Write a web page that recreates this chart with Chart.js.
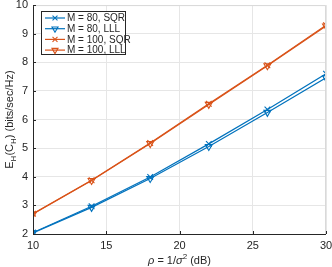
<!DOCTYPE html>
<html>
<head>
<meta charset="utf-8">
<script src="https://cdn.jsdelivr.net/npm/chart.js@4"></script>
<style>
  html, body { margin: 0; padding: 0; background: #fff; }
  #wrap { width: 332px; height: 267px; }
</style>
</head>
<body>
<div id="wrap"><canvas id="chart" width="332" height="267"></canvas></div>
<script>
let rho = [10, 14, 18, 22, 26, 30];
let m80Sqr = [2.05, 2.97, 3.99, 5.15, 6.35, 7.6];
let m80Lll = [2.04, 2.93, 3.94, 5.06, 6.25, 7.46];
let m100Sqr = [2.71, 3.88, 5.18, 6.55, 7.9, 9.3];
let m100Lll = [2.7, 3.87, 5.16, 6.53, 7.88, 9.27];
let seriesNames = ['M = 80, SQR', 'M = 80, LLL', 'M = 100, SQR', 'M = 100, LLL'];

let blue = '#0072BD';
let orange = '#D95319';
let font = '"Liberation Sans", Arial, sans-serif';

function mkSet(label, vals, color, marker) {
    return {
        label: label,
        data: rho.map((r, i) => ({ x: r, y: vals[i] })),
        borderColor: color,
        backgroundColor: 'rgba(0,0,0,0)',
        borderWidth: 1.2,
        pointStyle: marker,
        pointRotation: marker === 'triangle' ? 180 : 0,
        pointRadius: 4,
        pointBorderWidth: 1.1,
        pointBorderColor: color,
        pointBackgroundColor: 'rgba(0,0,0,0)',
        tension: 0
    };
}

// box, ticks, axis titles and legend, drawn by hand (MATLAB look)
let decor = {
    id: 'decor',
    afterDraw(chart) {
        let c = chart.ctx;
        let a = chart.chartArea;
        c.save();
        c.strokeStyle = '#262626';
        c.lineWidth = 1;
        c.beginPath();
        c.moveTo(a.left + 0.5, a.top);
        c.lineTo(a.left + 0.5, a.bottom + 0.5);
        c.lineTo(a.right, a.bottom + 0.5);
        c.stroke();
        c.strokeStyle = '#d9d9d9';
        c.beginPath();
        c.moveTo(a.left, a.top + 0.5);
        c.lineTo(a.right - 0.5, a.top + 0.5);
        c.lineTo(a.right - 0.5, a.bottom);
        c.stroke();

        c.strokeStyle = '#262626';
        let xs = chart.scales.x, ys = chart.scales.y;
        xs.ticks.forEach(t => {
            let px = Math.round(xs.getPixelForValue(t.value)) + 0.5;
            c.beginPath();
            c.moveTo(px, a.bottom);
            c.lineTo(px, a.bottom - 3);
            c.stroke();
        });
        ys.ticks.forEach(t => {
            let py = Math.round(ys.getPixelForValue(t.value)) + 0.5;
            c.beginPath();
            c.moveTo(a.left, py);
            c.lineTo(a.left + 3, py);
            c.stroke();
        });

        c.fillStyle = '#262626';
        c.textBaseline = 'alphabetic';
        let parts = [
            ['ρ', 'italic 11px ' + font, 0],
            [' = 1/', '11px ' + font, 0],
            ['σ', 'italic 11px ' + font, 0],
            ['2', '8px ' + font, -5],
            [' (dB)', '11px ' + font, 0]
        ];
        let w = 0;
        parts.forEach(p => { c.font = p[1]; w += c.measureText(p[0]).width; });
        let x0 = (a.left + a.right) / 2 - w / 2;
        let by = 264;
        parts.forEach(p => {
            c.font = p[1];
            c.textAlign = 'left';
            c.fillText(p[0], x0, by + p[2]);
            x0 += c.measureText(p[0]).width;
        });

        c.translate(13, (a.top + a.bottom) / 2);
        c.rotate(-Math.PI / 2);
        let yparts = [
            ['E', '11px ' + font, 0],
            ['H', '8px ' + font, 3],
            ['(C', '11px ' + font, 0],
            ['H', '8px ' + font, 3],
            [') (bits/sec/Hz)', '11px ' + font, 0]
        ];
        w = 0;
        yparts.forEach(p => { c.font = p[1]; w += c.measureText(p[0]).width; });
        x0 = -w / 2;
        yparts.forEach(p => {
            c.font = p[1];
            c.fillText(p[0], x0, p[2]);
            x0 += c.measureText(p[0]).width;
        });
        c.restore();

        // legend
        c.save();
        let lx = 41, ly = 11, lw = 84, lh = 43;
        c.fillStyle = '#fff';
        c.fillRect(lx, ly, lw, lh);
        c.strokeStyle = '#262626';
        c.lineWidth = 1;
        c.strokeRect(lx + 0.5, ly + 0.5, lw, lh);
        c.font = '10px ' + font;
        c.textBaseline = 'middle';
        c.textAlign = 'left';
        chart.data.datasets.forEach((ds, i) => {
            let yy = ly + 7 + i * 10.7;
            c.strokeStyle = ds.borderColor;
            c.lineWidth = 1.2;
            c.beginPath();
            c.moveTo(lx + 4, yy);
            c.lineTo(lx + 24, yy);
            c.stroke();
            c.lineWidth = 1.1;
            c.fillStyle = 'rgba(0,0,0,0)';
            Chart.helpers.drawPoint(c, {
                pointStyle: ds.pointStyle,
                rotation: ds.pointRotation,
                radius: 3.5,
                borderWidth: 1.1
            }, lx + 14, yy);
            c.fillStyle = '#262626';
            c.fillText(ds.label, lx + 26, yy + 0.5);
        });
        c.restore();
    }
};

new Chart(document.getElementById('chart').getContext('2d'), {
    type: 'line',
    data: {
        datasets: [
            mkSet(seriesNames[0], m80Sqr, blue, 'crossRot'),
            mkSet(seriesNames[1], m80Lll, blue, 'triangle'),
            mkSet(seriesNames[2], m100Sqr, orange, 'crossRot'),
            mkSet(seriesNames[3], m100Lll, orange, 'triangle')
        ]
    },
    options: {
        responsive: false,
        animation: false,
        layout: { padding: { top: 5, right: 0, left: 0, bottom: 0 } },
        plugins: { legend: { display: false }, tooltip: { enabled: false } },
        scales: {
            x: {
                type: 'linear',
                min: 10,
                max: 30,
                border: { display: false },
                grid: { color: '#e6e6e6', drawTicks: false },
                ticks: { stepSize: 5, padding: 5, color: '#262626', font: { family: font, size: 11 } },
                afterFit(s) { s.height = 33; s.paddingRight = 6; s.paddingLeft = 0; }
            },
            y: {
                min: 2,
                max: 10,
                border: { display: false },
                grid: { color: '#e6e6e6', drawTicks: false },
                ticks: { stepSize: 1, padding: 5, color: '#262626', font: { family: font, size: 11 } },
                afterFit(s) { s.width = 33; s.paddingTop = 0; s.paddingBottom = 0; }
            }
        }
    },
    plugins: [decor]
});
</script>
</body>
</html>
